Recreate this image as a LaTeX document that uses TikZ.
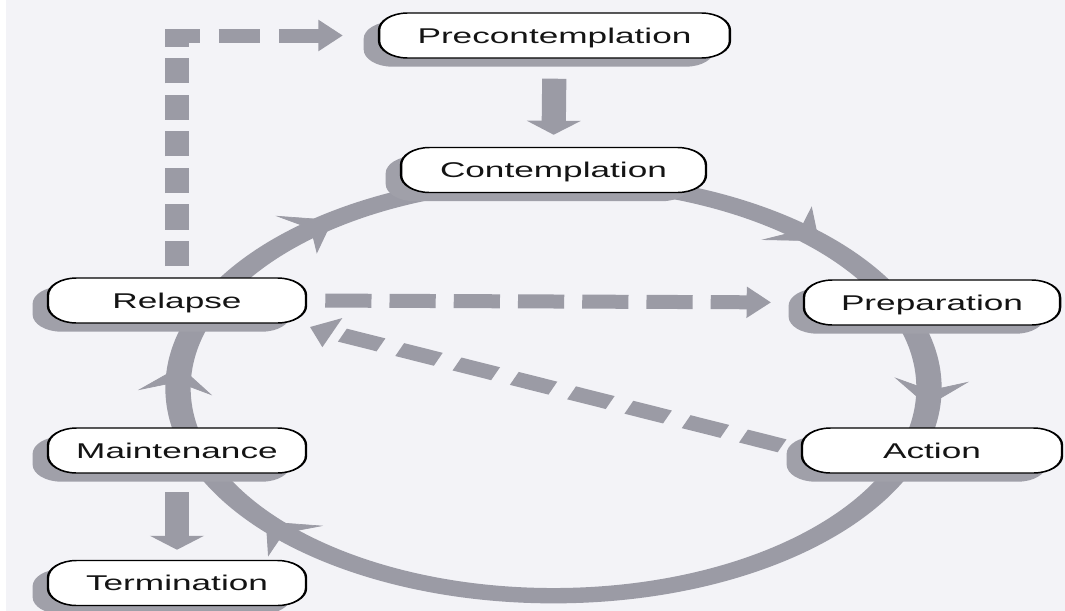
\documentclass[tikz,border=0pt]{standalone}
\usepackage{fontspec}
\newfontfamily\lab{Liberation Sans}
\usetikzlibrary{arrows.meta,shadows}
\pgfdeclarelayer{back}
\pgfdeclarelayer{links}
\pgfsetlayers{back,links,main}
\definecolor{paper}{RGB}{243,243,247}
\definecolor{cyc}{RGB}{155,155,165}
\definecolor{shd}{RGB}{160,160,169}
\tikzset{
  stretched/.style={transform canvas={xscale=1.65}, x=0.454545pt, y=-0.75pt},
  stage/.style={rectangle, rounded corners=13pt, draw=black, line width=1.1pt, fill=white,
    minimum height=33.75pt, inner sep=0pt, text height=11.5pt, text depth=0pt,
    font=\lab\fontsize{16pt}{19pt}\selectfont, text=black!92,
    drop shadow={shadow xshift=-7pt, shadow yshift=-6.5pt, fill=shd, opacity=1}},
  ring/.style={draw=cyc, line width=11.5pt},
  barb/.style={draw=cyc, line width=0.5pt, -{Stealth[length=20pt,width=34pt,inset=8pt]}},
  dashlink/.style={draw=cyc, line width=10.5pt, -{Triangle[length=11pt,width=23pt]}},
  blockarrow/.style={draw=cyc, line width=11pt, -{Triangle[length=10.5pt,width=24pt]}},
}
\begin{document}
\begin{tikzpicture}[x=0.75pt,y=-0.75pt]
\useasboundingbox (0,0) rectangle (1065,611);
\begin{pgfonlayer}{back}
\fill[paper] (0,0) rectangle (1065,611);
\fill[white] (0,0) rectangle (6,611);
\end{pgfonlayer}
\begin{scope}[stretched]
\node[stage, minimum width=159.5pt] (pre) at (554.5,35.5) {Precontemplation};
\node[stage, minimum width=138.6pt] (con) at (553.5,170) {Contemplation};
\node[stage, minimum width=117.3pt] (rel) at (177,300.5) {Relapse};
\node[stage, minimum width=116.4pt] (prep) at (932,302.5) {Preparation};
\node[stage, minimum width=118.2pt] (act) at (932,450.5) {Action};
\node[stage, minimum width=117.3pt] (main) at (177,450.5) {Maintenance};
\node[stage, minimum width=117.3pt] (term) at (177,583) {Termination};
\end{scope}
\begin{pgfonlayer}{links}
\begin{scope}[stretched]
\draw[ring] (553.5,388) ellipse [x radius=375.5, y radius=207.7];
\foreach \e in {315,5,140,186,234}
  \draw[barb] (553.5,388) ++({\e-7}:375.5 and 207.7) arc[start angle=\e-7, end angle=\e, x radius=375.5, y radius=207.7];
\draw[dashlink, dash pattern=on 19pt off 8.4pt, dash phase=19pt, shorten >=16pt] (rel.north) |- (pre.west);
\draw[dashlink, dash pattern=on 21pt off 8.2pt, dash phase=21pt, shorten >=14.5pt] (rel.east) -- (prep.west);
\coordinate (reltip) at (310,327);
\draw[dashlink, dash pattern=on 19pt off 9.2pt, dash phase=19pt] (act.west) -- (reltip);
\draw[blockarrow, shorten <=15pt, shorten >=9pt] (pre.south) -- (con.north);
\draw[blockarrow, shorten <=14pt, shorten >=7.5pt] (main.south) -- (term.north);
\end{scope}
\end{pgfonlayer}
\end{tikzpicture}
\end{document}
